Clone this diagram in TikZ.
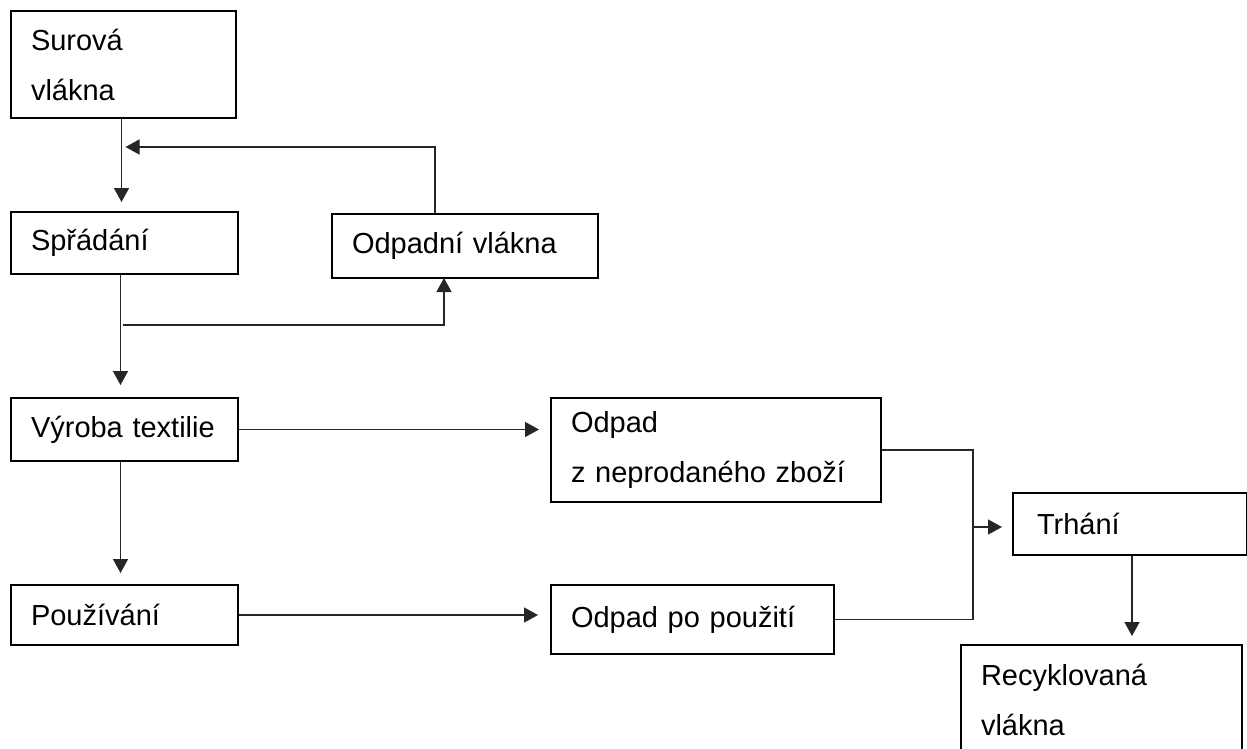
\documentclass[tikz,border=0pt]{standalone}
\usepackage{fontspec}
\setmainfont{Liberation Sans}
\usetikzlibrary{arrows.meta,calc}
\begin{document}
\begin{tikzpicture}[x=1pt,y=-1pt,
  box/.style args={#1x#2}{draw, line width=2pt, rectangle, anchor=north west,
    minimum width=#1pt, minimum height=#2pt, text width=#1pt-40pt,
    inner xsep=20pt, inner ysep=0pt, align=left,
    font=\fontsize{29}{50}\selectfont},
  conn/.style={line width=1.5pt, draw=black!85},
  arr/.style={conn, -{Triangle[length=14pt,width=15pt]}}]
\clip (0,0) rectangle (1247,749);
\fill[white] (0,0) rectangle (1247,749);

% process boxes
\node[box=225x107] (sur) at (10,10)  {Surová\\vlákna};
\node[box=227x62]  (spr) at (10,211) {Spřádání};
\node[box=266x64]  (odv) at (331,213) {Odpadní vlákna};
\node[box=227x63]  (vyr) at (10,397) {Výroba textilie};
\node[box=227x60]  (pou) at (10,584) {Používání};
\node[box=330x104] (odp) at (550,397) {Odpad\\z neprodaného zboží};
\node[box=283x69]  (opp) at (550,584) {Odpad po použití};
\node[box=226x62, inner xsep=24pt] (trh) at (1012,492) {Trhání};
\node[box=281x110] (rec) at (960,644) {Recyklovaná\\vlákna};

% junction points
\coordinate (fbend) at ($(sur.south)+(2,28)$);
\coordinate (fbup)  at ($(odv.north west)+(104,0)$);
\coordinate (brx)   at ($(spr.south)+(-2,50)$);
\coordinate (brup)  at ($(odv.south west)+(113,0)$);
\coordinate (jx)    at ($(odp.east)+(91,0)$);

% main flow
\draw[arr, shorten >=9pt] ($(sur.south)+(-2,0)$) -- ($(sur.south |- spr.north)+(-2,0)$);
\draw[arr] (fbup) |- (fbend);
\draw[arr, shorten >=12pt] ($(spr.south)+(-4,0)$) -- ($(spr.south |- vyr.north)+(-4,0)$);
\draw[arr, shorten >=-1pt] (brx) -| (brup);
\draw[arr, shorten >=11pt] (vyr.east) -- (vyr.east -| odp.west);
\draw[arr, shorten >=11pt] ($(vyr.south)+(-4,0)$) -- ($(vyr.south |- pou.north)+(-4,0)$);
\draw[arr, shorten >=12pt] (pou.east) -- (pou.east -| opp.west);

% recycling branch
\draw[conn] (odp.east) -- (jx) -- (jx |- opp.east) -- (opp.east);
\draw[arr, shorten >=10pt] ($(jx |- trh.west)+(0,3)$) -- ($(trh.west)+(0,3)$);
\draw[arr, shorten >=8pt] ($(trh.south)+(2,0)$) -- ($(trh.south |- rec.north)+(2,0)$);
\end{tikzpicture}
\end{document}
